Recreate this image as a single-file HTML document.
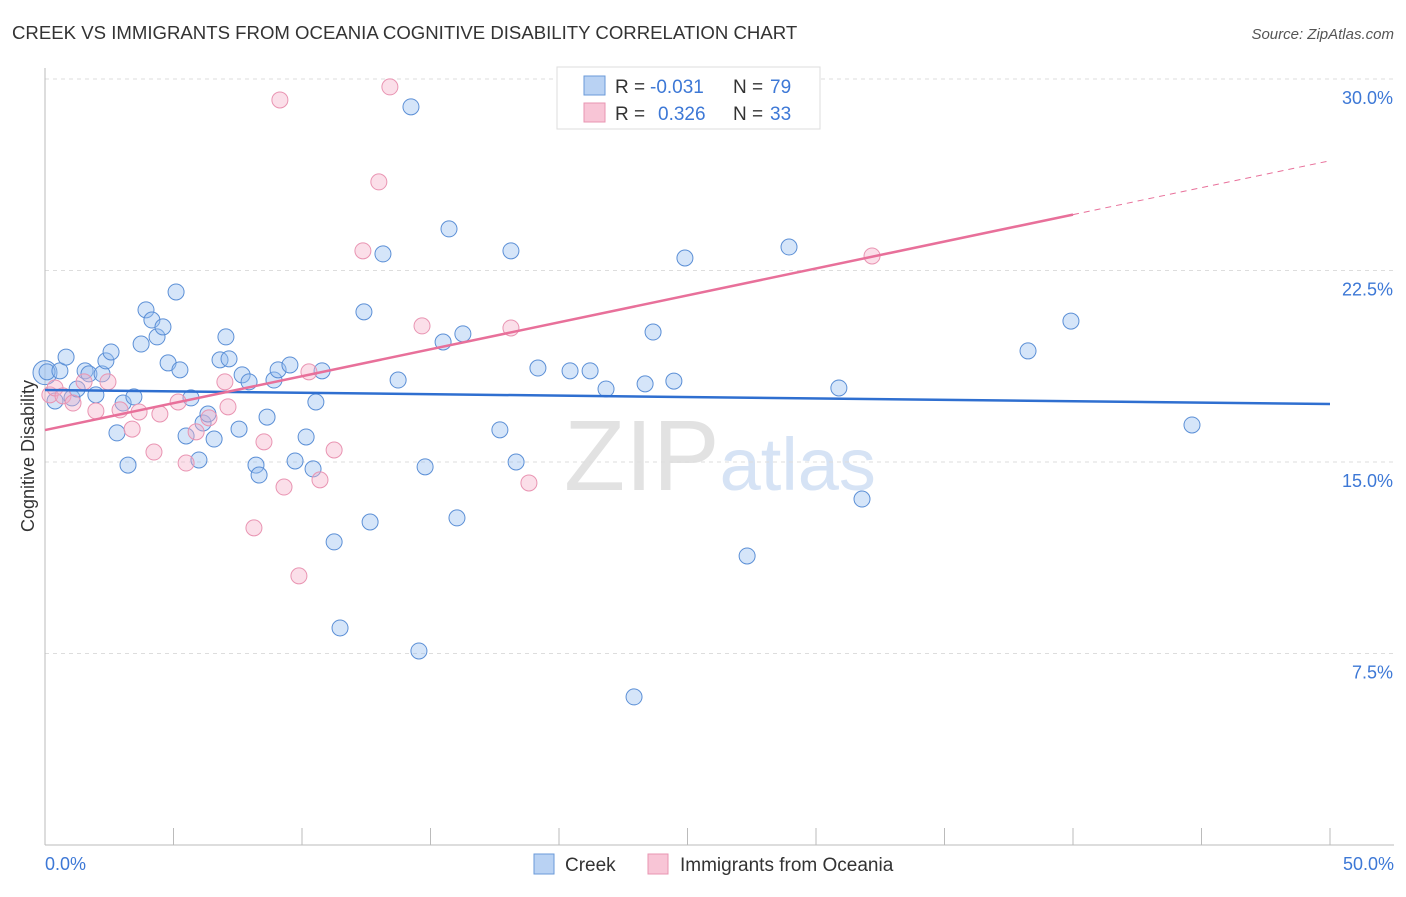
<!DOCTYPE html>
<html><head><meta charset="utf-8"><style>
body{margin:0;background:#fff;font-family:"Liberation Sans",sans-serif;}
svg text{font-family:"Liberation Sans",sans-serif;}
</style></head><body>
<svg id="chart" width="1406" height="892" xmlns="http://www.w3.org/2000/svg">
<text x="12" y="39" font-size="18.6" fill="#333">CREEK VS IMMIGRANTS FROM OCEANIA COGNITIVE DISABILITY CORRELATION CHART</text>
<text x="1394" y="39" font-size="15" fill="#555" font-style="italic" text-anchor="end">Source: ZipAtlas.com</text>
<text x="720" y="490" font-size="100" text-anchor="middle" fill="#ddd" font-family="Liberation Serif"><tspan fill="#e2e2e2">ZIP</tspan><tspan fill="#d6e3f5" font-family="Liberation Sans" font-size="74">atlas</tspan></text>
<g id="grid"></g><g id="axes"></g><g id="marks"></g>
<text transform="translate(34,456) rotate(-90)" font-size="18" fill="#333" text-anchor="middle">Cognitive Disability</text>
<g>
<rect x="557" y="67" width="263" height="62" fill="#fff" stroke="#ddd"/>
<rect x="584" y="76" width="21" height="19" fill="#b9d2f3" stroke="#6a9ad8"/>
<rect x="584" y="103" width="21" height="19" fill="#f8c5d6" stroke="#e895b2"/>
<text x="615" y="93" font-size="19" fill="#333">R =</text>
<text x="650" y="93" font-size="19" fill="#3d78d6">-0.031</text>
<text x="733" y="93" font-size="19" fill="#333">N =</text>
<text x="770" y="93" font-size="19" fill="#3d78d6">79</text>
<text x="615" y="120" font-size="19" fill="#333">R =</text>
<text x="658" y="120" font-size="19" fill="#3d78d6">0.326</text>
<text x="733" y="120" font-size="19" fill="#333">N =</text>
<text x="770" y="120" font-size="19" fill="#3d78d6">33</text>
</g>
<g>
<rect x="534" y="854" width="20" height="20" fill="#b9d2f3" stroke="#6a9ad8"/>
<text x="565" y="871" font-size="19" fill="#333">Creek</text>
<rect x="648" y="854" width="20" height="20" fill="#f8c5d6" stroke="#e895b2"/>
<text x="680" y="871" font-size="19" fill="#333">Immigrants from Oceania</text>
</g>
</svg>
<script>
const yTicks=[7.5,15,22.5,30];
const yTickLabels=["7.5%","15.0%","22.5%","30.0%"];
const xTicks=[0,5,10,15,20,25,30,35,40,45,50];
const creekX=[0,0.08,0.58,0.82,0.39,1.05,1.25,1.56,1.71,1.98,2.22,2.37,2.57,2.80,3.04,3.23,3.46,3.74,3.93,4.16,4.36,4.59,4.79,5.10,5.25,5.49,5.68,5.99,6.15,6.34,6.58,6.81,7.04,7.16,7.55,7.67,7.94,8.21,8.33,8.64,8.91,9.07,9.53,9.73,10.16,10.43,10.54,10.78,11.25,11.48,12.41,12.65,13.15,13.74,14.24,14.55,14.79,15.49,15.72,16.03,16.26,17.70,18.13,18.33,19.18,20.43,21.21,21.83,22.92,23.35,23.66,24.47,24.90,27.32,28.95,30.89,31.79,38.25,39.92,44.63];
const creekY=[18.5,18.53,18.57,19.11,17.39,17.51,17.86,18.57,18.45,17.63,18.45,18.96,19.31,16.14,17.31,14.88,17.55,19.62,20.96,20.56,19.90,20.29,18.88,21.66,18.61,16.02,17.51,15.08,16.53,16.88,15.90,19.00,19.90,19.04,16.29,18.41,18.14,14.88,14.49,16.76,18.21,18.61,18.80,15.04,15.98,14.73,17.35,18.57,11.87,8.50,20.88,12.65,23.15,18.21,28.91,7.60,14.81,19.70,24.13,12.81,20.02,16.26,23.27,15.00,18.68,18.57,18.57,17.86,5.80,18.06,20.09,18.17,22.99,11.32,23.42,17.90,13.55,19.35,20.52,16.45];
const oceX=[0.19,0.39,0.70,1.09,1.52,1.98,2.45,2.92,3.39,3.66,4.24,4.47,5.18,5.49,5.88,6.38,7.00,7.12,8.13,8.52,9.14,9.30,9.88,10.27,10.70,11.25,12.37,12.99,13.42,14.67,18.13,18.83,32.18];
const oceY=[17.63,17.90,17.59,17.31,18.14,17.00,18.14,17.04,16.29,16.96,15.39,16.88,17.35,14.96,16.18,16.73,18.14,17.16,12.42,15.79,29.18,14.02,10.54,18.53,14.30,15.47,23.27,25.97,29.69,20.33,20.25,14.18,23.07];
const creekTrend=[17.82,17.27];
const oceTrend=[16.25,26.8];
const oceSolidEnd=40;
const NS="http://www.w3.org/2000/svg";
function xs(v){return 45+v*25.7;}
function ys(v){return 845-v*25.533;}
function mk(tag,attrs,parent){const e=document.createElementNS(NS,tag);for(const k in attrs)e.setAttribute(k,attrs[k]);parent.appendChild(e);return e;}
const grid=document.getElementById('grid'),axes=document.getElementById('axes'),marks=document.getElementById('marks');
yTicks.forEach((t,i)=>{
 const l=mk('line',{x1:45,x2:1394,y1:ys(t),y2:ys(t),stroke:'#ddd','stroke-dasharray':'4,4'},grid);
 
 
 const tx=mk('text',{x:1393,y:ys(t)+25,'font-size':18,fill:'#3d78d6','text-anchor':'end'},axes);
 tx.textContent=yTickLabels[i];
 
 
});
const ya=mk('line',{x1:45,x2:45,y1:68,y2:845,stroke:'#bbb'},axes);


const xa=mk('line',{x1:45,x2:1394,y1:845,y2:845,stroke:'#bbb'},axes);


xTicks.forEach(t=>{
 const l=mk('line',{x1:xs(t),x2:xs(t),y1:828,y2:845,stroke:'#bbb'},axes);
 
 
});
const xl0=mk('text',{x:45,y:870,'font-size':18,fill:'#3d78d6'},axes);xl0.textContent=xTicks[0].toFixed(1)+'%';


const xl1=mk('text',{x:1394,y:870,'font-size':18,fill:'#3d78d6','text-anchor':'end'},axes);xl1.textContent=xTicks[xTicks.length-1].toFixed(1)+'%';


creekX.forEach((x,i)=>{
 const c=mk('circle',{cx:xs(x),cy:ys(creekY[i]),r:i===0?12:8,fill:'rgba(150,190,240,0.4)',stroke:'#5b8fd6','stroke-width':1},marks);
 
 
});
oceX.forEach((x,i)=>{
 const c=mk('circle',{cx:xs(x),cy:ys(oceY[i]),r:8,fill:'rgba(245,175,200,0.4)',stroke:'#e994b2','stroke-width':1},marks);
 
 
});
const bl=mk('line',{x1:xs(0),y1:ys(creekTrend[0]),x2:xs(50),y2:ys(creekTrend[1]),stroke:'#2f6fd0','stroke-width':2.5},marks);


const slope=(oceTrend[1]-oceTrend[0])/50;
const pl=mk('line',{x1:xs(0),y1:ys(oceTrend[0]),x2:xs(oceSolidEnd),y2:ys(oceTrend[0]+slope*oceSolidEnd),stroke:'#e8709a','stroke-width':2.5},marks);


const pd=mk('line',{x1:xs(oceSolidEnd),y1:ys(oceTrend[0]+slope*oceSolidEnd),x2:xs(50),y2:ys(oceTrend[1]),stroke:'#e8709a','stroke-width':1,'stroke-dasharray':'6,5'},marks);


</script>
</body></html>
